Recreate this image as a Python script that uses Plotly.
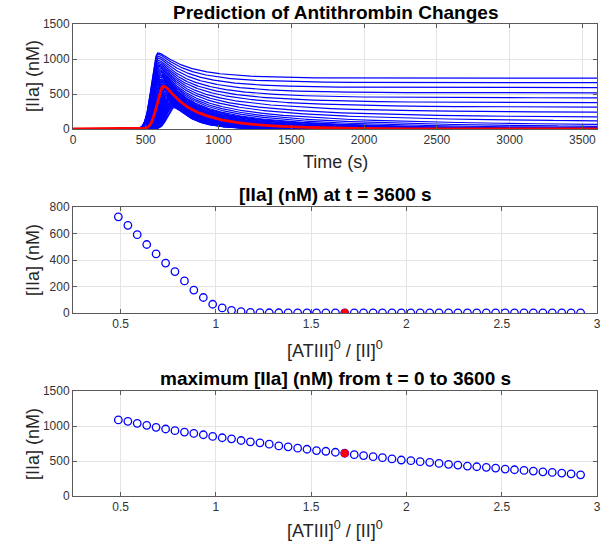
import numpy as np
import plotly.graph_objects as go
from plotly.subplots import make_subplots

# ---- data ----
ratio = [0.488, 0.538, 0.587, 0.637, 0.686, 0.736, 0.785, 0.835, 0.884, 0.934,
         0.983, 1.033, 1.082, 1.132, 1.181, 1.231, 1.280, 1.330, 1.379, 1.429,
         1.478, 1.528, 1.577, 1.627, 1.676, 1.726, 1.775, 1.825, 1.874, 1.924,
         1.973, 2.023, 2.072, 2.122, 2.171, 2.221, 2.270, 2.320, 2.369, 2.419,
         2.468, 2.518, 2.567, 2.617, 2.666, 2.716, 2.765, 2.815, 2.864, 2.914]
iia_final = [726, 662, 591, 517, 446, 377, 313, 242, 173, 117,
             66, 38, 20, 10, 5, 3, 2, 2, 1, 1,
             1, 1, 1, 1, 1, 1, 1, 1, 1, 1,
             1, 1, 1, 1, 1, 1, 1, 1, 1, 1,
             1, 1, 1, 1, 1, 1, 1, 1, 1, 1]
iia_max = [1087, 1067, 1038, 1010, 981, 957, 933, 913, 894, 875,
           851, 832, 817, 793, 774, 760, 740, 716, 702, 683,
           668, 649, 639, 625, 611, 591, 577, 562, 548, 529,
           514, 505, 490, 481, 466, 452, 442, 428, 418, 409,
           399, 385, 375, 365, 356, 346, 337, 327, 317, 303]
peak_time = [583, 583, 584, 585, 585, 586, 587, 588, 590, 591,
             593, 594, 596, 598, 600, 602, 604, 606, 608, 610,
             612, 614, 616, 619, 621, 623, 626, 628, 631, 633,
             636, 639, 642, 644, 647, 650, 653, 656, 659, 662,
             665, 668, 671, 674, 677, 681, 684, 687, 690, 694]
highlight = 24  # red curve / red marker
t_end = 3600

# ---- reconstruct time courses from the read values ----
k = 5e-6
rise_w = 60.0
round_s = 35.0
t = np.arange(0, t_end + 1, 2.0)


def decay(tau, P, d):
    if abs(d) < 1e-9:
        return P / (1 + k * P * tau)
    return d * P / ((P + d) * np.exp(k * d * tau) - P)


def eff(tau):
    return np.sqrt(tau ** 2 + round_s ** 2) - round_s


def solve_d(P, tp, target):
    lo, hi = -P * 0.999, 4000.0
    tau = eff(t_end - tp)
    for _ in range(200):
        mid = 0.5 * (lo + hi)
        if decay(tau, P, mid) > target:
            lo = mid
        else:
            hi = mid
    return 0.5 * (lo + hi)


deltas = []
last = None
for x, P, tp, E in zip(ratio, iia_max, peak_time, iia_final):
    if E >= 8:
        d = solve_d(P, tp, E)
        last = (x, d)
    else:
        d = last[1] + 665 * (x - last[0])
    deltas.append(d)


def course(P, tp, d):
    y = np.empty_like(t)
    left = t <= tp
    y[left] = P * np.exp(-((t[left] - tp) / rise_w) ** 2)
    y[~left] = decay(eff(t[~left] - tp), P, d)
    return y


fig = make_subplots(rows=3, cols=1)

for i in range(len(ratio)):
    if i == highlight:
        continue
    fig.add_trace(go.Scatter(x=t, y=course(iia_max[i], peak_time[i], deltas[i]),
                             mode='lines', line=dict(color='#0000FF', width=1.2),
                             showlegend=False, hoverinfo='skip'), row=1, col=1)
fig.add_trace(go.Scatter(x=t, y=course(iia_max[highlight], peak_time[highlight], deltas[highlight]),
                         mode='lines', line=dict(color='#FF0000', width=2.8),
                         showlegend=False), row=1, col=1)

mk_open = dict(symbol='circle-open', size=7.5, color='#0000FF', line=dict(width=1.3, color='#0000FF'))
mk_red = dict(symbol='circle', size=8, color='#FF0000')

fig.add_trace(go.Scatter(x=ratio, y=iia_final, mode='markers', marker=mk_open, showlegend=False), row=2, col=1)
fig.add_trace(go.Scatter(x=[ratio[highlight]], y=[iia_final[highlight]], mode='markers', marker=mk_red,
                         showlegend=False), row=2, col=1)
fig.add_trace(go.Scatter(x=ratio, y=iia_max, mode='markers', marker=mk_open, showlegend=False), row=3, col=1)
fig.add_trace(go.Scatter(x=[ratio[highlight]], y=[iia_max[highlight]], mode='markers', marker=mk_red,
                         showlegend=False), row=3, col=1)

W, H = 611, 551
ml, mr = 73, 14


def ydom(top_px, bot_px):
    return [(H - bot_px) / H, (H - top_px) / H]


axis_common = dict(showline=True, linecolor='#5a5a5a', linewidth=1, mirror='allticks',
                   ticks='inside', ticklen=4, tickcolor='#5a5a5a',
                   showgrid=True, gridcolor='#e4e4e4', gridwidth=1, zeroline=False,
                   tickfont=dict(family='Liberation Sans', size=12, color='#333333'))

fig.update_layout(
    width=W, height=H, margin=dict(l=ml, r=mr, t=0, b=0, autoexpand=False),
    paper_bgcolor='white', plot_bgcolor='white', showlegend=False,
    xaxis=dict(range=[0, 3600], tickvals=[0, 500, 1000, 1500, 2000, 2500, 3000, 3500], **axis_common),
    yaxis=dict(range=[0, 1500], tickvals=[0, 500, 1000, 1500], domain=ydom(24, 129), **axis_common),
    xaxis2=dict(range=[0.25, 3], tickvals=[0.5, 1, 1.5, 2, 2.5, 3],
                ticktext=['0.5', '1', '1.5', '2', '2.5', '3'], **axis_common),
    yaxis2=dict(range=[0, 800], tickvals=[0, 200, 400, 600, 800], domain=ydom(207, 313), **axis_common),
    xaxis3=dict(range=[0.25, 3], tickvals=[0.5, 1, 1.5, 2, 2.5, 3],
                ticktext=['0.5', '1', '1.5', '2', '2.5', '3'], **axis_common),
    yaxis3=dict(range=[0, 1500], tickvals=[0, 500, 1000, 1500], domain=ydom(391, 496), **axis_common),
)

title_font = dict(family='Liberation Sans', size=19, color='black')
label_font = dict(family='Liberation Sans', size=18, color='#262626')


def ann(text, x_px, y_px, font, angle=0):
    fig.add_annotation(text=text, xref='paper', yref='paper',
                       x=(x_px - ml) / (W - ml - mr), y=(H - y_px) / H,
                       xanchor='center', yanchor='middle', showarrow=False,
                       font=font, textangle=angle)


ann('<b>Prediction of Antithrombin Changes</b>', 335, 12, title_font)
ann('<b>[IIa] (nM) at t = 3600 s</b>', 335, 195, title_font)
ann('<b>maximum [IIa] (nM) from t = 0 to 3600 s</b>', 335, 379, title_font)
ann('Time (s)', 335, 162, label_font)
ann('[ATIII]<sup>0</sup> / [II]<sup>0</sup>', 335, 349, label_font)
ann('[ATIII]<sup>0</sup> / [II]<sup>0</sup>', 335, 529, label_font)
ann('[IIa] (nM)', 33, 76, label_font, -90)
ann('[IIa] (nM)', 33, 260, label_font, -90)
ann('[IIa] (nM)', 33, 444, label_font, -90)

fig.write_html('out.html', config={'displayModeBar': False},
               post_script="document.body.style.margin='0';document.body.style.overflow='hidden';")
